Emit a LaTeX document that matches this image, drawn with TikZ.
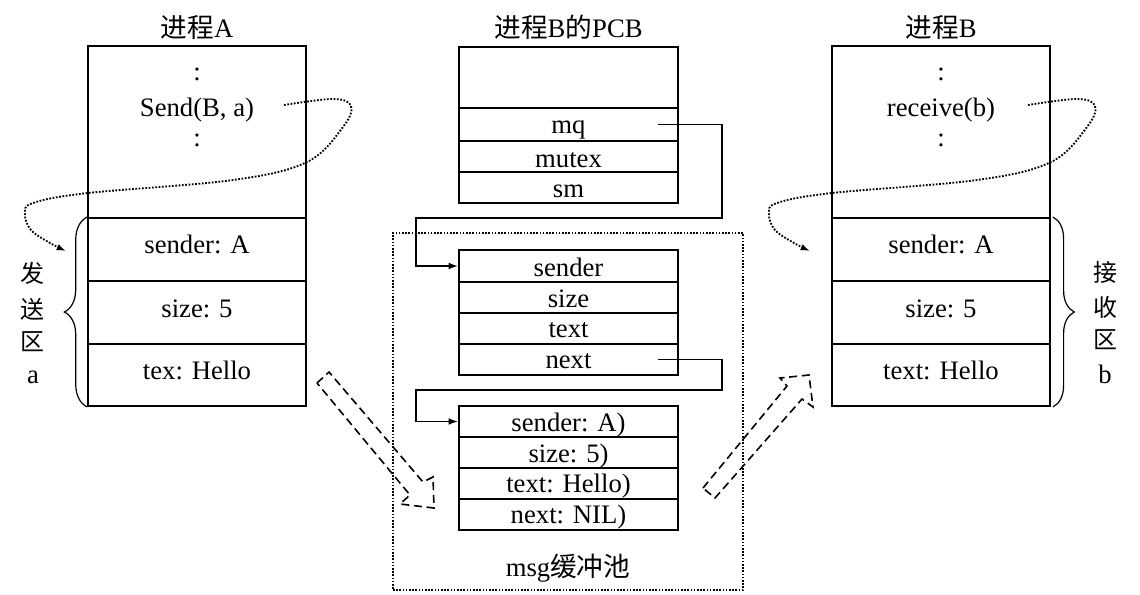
\documentclass[tikz,border=0pt]{standalone}
\usepackage{fontspec}
\setmainfont{Liberation Serif}
\newfontfamily\cjk{Noto Sans CJK SC}
\usetikzlibrary{arrows.meta,decorations.pathreplacing,calc}
\begin{document}
\begin{tikzpicture}[x=0.75pt,y=-0.75pt,
  cellbox/.style={draw,line width=1.4pt,inner sep=0pt},
  colA/.style={cellbox,minimum width=218*0.75pt},
  colP/.style={cellbox,minimum width=219*0.75pt},
  txt/.style={anchor=base,inner sep=0pt,font=\fontsize{20pt}{24pt}\selectfont},
  side/.style={inner sep=0pt,font=\fontsize{18pt}{22pt}\selectfont},
  link/.style={line width=1.1pt,-{Latex[length=7pt,width=5pt]}},
  dotcurve/.style={line width=1.4pt,dash pattern=on 1.3pt off 1.2pt,-{Latex[length=7pt,width=5pt]}},
  pool/.style={line width=1.3pt,dash pattern=on 1.2pt off 1.2pt},
  fatarrow/.style={line width=1.2pt,dash pattern=on 6pt off 3.5pt,line join=miter},
  bracestyle/.style={line width=0.9pt,decorate}
]
\useasboundingbox (0,0) rectangle (1140,594);

% ---------- titles ----------
\node[txt] (titleA) at (197,37) {{\cjk 进程}A};
\node[txt] (titleP) at (568.5,37) {{\cjk 进程}B{\cjk 的}PCB};
\node[txt] (titleB) at (941,37) {{\cjk 进程}B};

% ---------- process A ----------
\node[colA,minimum height=172*0.75pt] (A0) at (197,132) {};
\node[colA,minimum height=63*0.75pt] (A1) at (197,249.5) {};
\node[colA,minimum height=63*0.75pt] (A2) at (197,312.5) {};
\node[colA,minimum height=62*0.75pt] (A3) at (197,375) {};
\node[txt] (dA1) at (197,80) {:};
\node[txt] (sendA) at (197,116) {Send(B, a)};
\node[txt] (dA2) at (197,146) {:};
\node[txt] (tA1) at (197,253) {sender: A};
\node[txt] (tA2) at (197,317) {size: 5};
\node[txt] (tA3) at (197,379) {tex: Hello};

% ---------- process B ----------
\node[colA,minimum height=172*0.75pt] (B0) at (941,132) {};
\node[colA,minimum height=63*0.75pt] (B1) at (941,249.5) {};
\node[colA,minimum height=63*0.75pt] (B2) at (941,312.5) {};
\node[colA,minimum height=62*0.75pt] (B3) at (941,375) {};
\node[txt] (dB1) at (941,80) {:};
\node[txt] (recvB) at (941,116) {receive(b)};
\node[txt] (dB2) at (941,146) {:};
\node[txt] (tB1) at (941,253) {sender: A};
\node[txt] (tB2) at (941,317) {size: 5};
\node[txt] (tB3) at (941,379) {text: Hello};

% ---------- PCB of B ----------
\node[colP,minimum height=61*0.75pt] (P0) at (568.5,77.5) {};
\node[colP,minimum height=33*0.75pt] (P1) at (568.5,124.5) {};
\node[colP,minimum height=31*0.75pt] (P2) at (568.5,156.5) {};
\node[colP,minimum height=31*0.75pt] (P3) at (568.5,187.5) {};
\node[txt] (tP1) at (568.5,133) {mq};
\node[txt] (tP2) at (568.5,167) {mutex};
\node[txt] (tP3) at (568.5,197) {sm};

% ---------- message pool ----------
\node[pool,draw,inner sep=0pt,minimum width=350*0.75pt,minimum height=357*0.75pt] (poolbox) at (568,411.5) {};
\node[txt] (poolt) at (568,576) {msg{\cjk 缓冲池}};

\node[colP,minimum height=32*0.75pt] (M11) at (568.5,266) {};
\node[colP,minimum height=31*0.75pt] (M12) at (568.5,297.5) {};
\node[colP,minimum height=31*0.75pt] (M13) at (568.5,328.5) {};
\node[colP,minimum height=31*0.75pt] (M14) at (568.5,359.5) {};
\node[txt] (tM11) at (568.5,276) {sender};
\node[txt] (tM12) at (568.5,307) {size};
\node[txt] (tM13) at (568.5,337) {text};
\node[txt] (tM14) at (568.5,368) {next};

\node[colP,minimum height=31*0.75pt] (M21) at (568.5,421.5) {};
\node[colP,minimum height=31*0.75pt] (M22) at (568.5,452.5) {};
\node[colP,minimum height=31*0.75pt] (M23) at (568.5,483.5) {};
\node[colP,minimum height=31*0.75pt] (M24) at (568.5,514.5) {};
\node[txt] (tM21) at (568.5,431) {sender: A)};
\node[txt] (tM22) at (568.5,462) {size: 5)};
\node[txt] (tM23) at (568.5,492) {text: Hello)};
\node[txt] (tM24) at (568.5,523) {next: NIL)};

% ---------- pointer links ----------
\draw[link] ($(P1.east)+(-21,0)$) -- (722,124.5) -- (722,218) -- (416,218) |- (M11.west);
\draw[link] ($(M14.east)+(-21,0)$) -- (722,359.5) -- (722,390) -- (416,390) |- (M21.west);

% ---------- dotted curves ----------
\coordinate (sA) at (284,105);
\coordinate (eA) at (66,251);
\draw[dotcurve] plot[smooth,tension=0.6] coordinates {(sA) (333,99) (351,106) (343,127) (307,162) (233,180) (88,193) (33,203) (25,214) (31,230) (50,243) (eA)};
\coordinate (sB) at (1028,105);
\coordinate (eB) at (810,251);
\draw[dotcurve] plot[smooth,tension=0.6] coordinates {(sB) (1077,99) (1095,106) (1087,127) (1051,162) (977,180) (832,193) (777,203) (769,214) (775,230) (794,243) (eB)};

% ---------- braces ----------
\draw[bracestyle,decoration={brace,amplitude=17pt}] (A3.south west) -- (A1.north west);
\draw[bracestyle,decoration={brace,amplitude=16pt}] ($(B1.north east)+(2,0)$) -- ($(B3.south east)+(2,0)$);

\node[side] (s1) at (33,273) {\cjk 发};
\node[side] (s2) at (33,309) {\cjk 送};
\node[side] (s3) at (33,342) {\cjk 区};
\node[txt] (s4) at (33,383) {a};
\node[side] (r1) at (1105,272) {\cjk 接};
\node[side] (r2) at (1105,307) {\cjk 收};
\node[side] (r3) at (1105,340) {\cjk 区};
\node[txt] (r4) at (1105,383) {b};

% ---------- dashed block arrows ----------
\draw[fatarrow] (317,383) -- (329,372) -- (423,482) -- (433,477) -- (434,508) -- (400,504) -- (410,495) -- cycle;
\draw[fatarrow] (703,488) -- (787,386) -- (780,378) -- (809,375) -- (813,407) -- (802,399) -- (715,498) -- cycle;
\end{tikzpicture}
\end{document}
